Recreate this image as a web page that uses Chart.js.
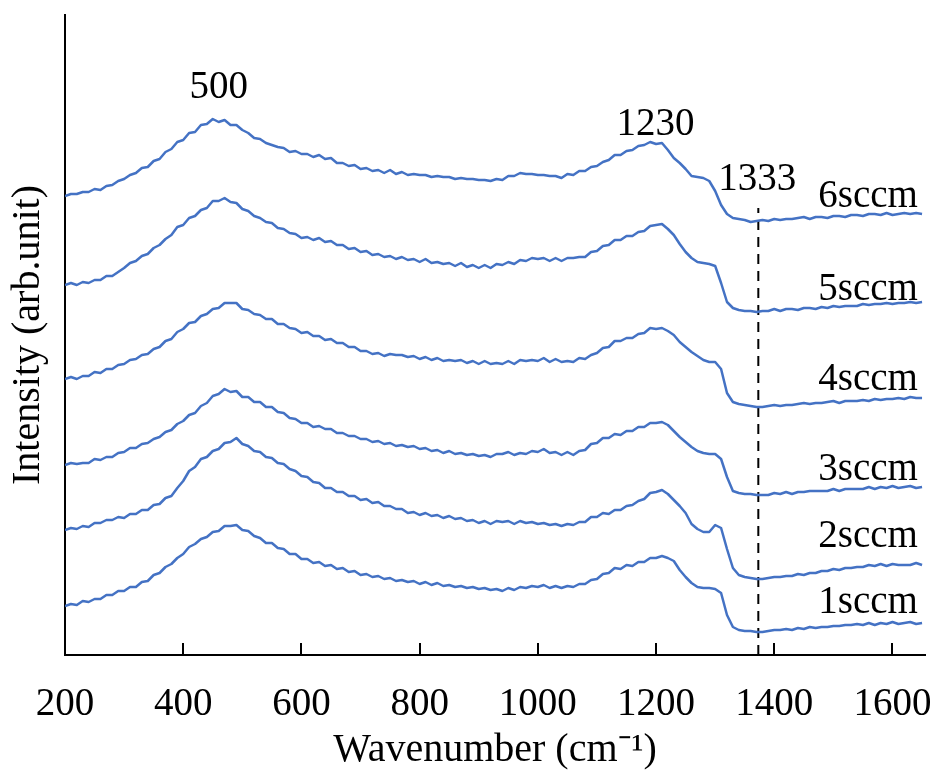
<!DOCTYPE html>
<html>
<head>
<meta charset="utf-8">
<title>Raman spectra</title>
<script src="https://cdn.jsdelivr.net/npm/chart.js@4.4.1/dist/chart.umd.min.js"></script>
<style>
    html, body { margin: 0; padding: 0; background: #fff; }
    #spectra { display: block; }
    .font-probe { font-family: "Liberation Serif"; position: absolute; left: -999px; }
</style>
</head>
<body>
<span class="font-probe">Wavenumber 0123456789</span>
<canvas id="spectra" width="935" height="776"></canvas>
<script>
// Wavenumber grid (cm-1), one sample every 10
const wavenumbers = [];
for (let w = 200; w <= 1650; w += 10) wavenumbers.push(w);

// Stacked intensities (arb. unit, offset per flow rate)
const sccm6 = [
    459,461,461,463,463,466,465,469,470,474,
    476,480,482,487,488,494,496,503,506,513,
    515,522,523,530,531,536,533,535,530,530,
    525,522,517,516,512,510,508,507,503,504,
    501,501,498,500,496,497,492,492,489,490,
    486,487,484,485,482,485,481,483,480,481,
    480,480,478,479,478,478,476,477,476,476,
    475,475,474,476,475,479,479,482,481,481,
    480,480,479,479,477,481,480,484,484,488,
    489,493,495,500,500,504,505,509,510,513,
    511,512,505,497,492,486,479,478,477,474,
    464,450,441,437,436,435,433,434,435,434,
    436,435,436,436,437,438,436,438,438,437,
    439,439,438,440,440,439,441,441,440,442,
    440,441,442,441,442,441
];
const sccm5 = [
    370,372,370,373,372,375,375,379,379,383,
    387,392,394,399,401,407,410,416,420,428,
    430,437,439,445,447,454,454,457,453,452,
    446,444,439,437,433,432,427,426,422,421,
    417,418,415,417,413,414,410,410,406,407,
    403,404,400,401,398,399,396,398,395,396,
    393,396,392,393,391,392,389,392,388,390,
    387,390,387,391,390,393,391,395,394,397,
    396,397,394,397,394,397,397,398,398,403,
    404,409,410,415,415,419,419,423,424,429,
    430,431,426,420,411,403,397,393,392,391,
    389,372,353,347,345,344,344,343,344,344,
    346,344,346,346,345,347,347,346,348,347,
    349,348,349,349,349,351,350,351,351,352,
    351,352,352,353,352,353
];
const sccm4 = [
    276,278,276,279,279,283,282,286,286,290,
    291,295,296,300,301,306,308,314,316,323,
    326,332,333,339,341,346,347,352,352,352,
    346,345,341,340,336,336,331,331,327,326,
    322,323,319,319,315,316,312,312,308,308,
    304,304,301,302,299,301,300,300,298,299,
    296,298,295,297,294,295,294,295,292,294,
    291,294,291,292,291,294,291,295,294,295,
    294,297,293,296,293,294,293,297,296,300,
    302,307,308,314,314,317,317,321,322,327,
    326,327,324,320,313,308,303,299,295,293,
    293,286,262,253,251,250,249,248,248,249,
    250,249,250,250,251,252,251,252,252,253,
    254,252,254,254,254,255,254,256,255,256,
    256,257,256,258,257,257
];
const sccm3 = [
    190,192,191,192,192,196,195,198,198,202,
    203,207,207,211,212,216,218,223,225,231,
    234,240,242,249,252,259,261,266,263,264,
    258,258,253,253,248,248,243,242,237,236,
    232,232,228,229,226,226,222,222,219,219,
    216,216,213,214,211,212,209,210,208,209,
    206,207,204,205,202,204,201,202,200,201,
    199,200,198,201,201,203,200,202,201,204,
    203,206,202,203,200,203,200,204,205,211,
    212,217,217,221,220,224,224,228,228,232,
    232,233,230,224,218,213,208,204,202,201,
    201,196,178,164,162,161,161,160,160,160,
    162,161,163,161,163,163,164,164,164,164,
    166,164,166,166,166,166,168,166,168,167,
    169,167,168,169,167,168
];
const sccm2 = [
    125,127,126,129,128,132,132,135,135,138,
    137,141,141,145,145,150,151,157,159,167,
    174,184,188,196,198,204,206,212,213,217,
    211,209,204,203,198,197,192,191,186,184,
    179,178,173,172,167,167,163,163,159,159,
    155,156,152,153,149,149,146,146,142,143,
    140,142,139,140,137,139,136,137,134,135,
    132,134,131,134,133,134,131,134,132,133,
    131,132,130,131,129,131,130,133,133,138,
    138,142,141,145,145,149,150,154,156,162,
    163,165,161,155,149,142,131,126,123,123,
    130,127,106,87,80,78,77,76,76,77,
    78,78,79,79,81,80,82,82,84,84,
    86,85,87,87,88,88,90,89,91,89,
    91,90,90,90,92,90
];
const sccm1 = [
    49,51,50,54,53,56,56,60,60,64,
    64,68,68,73,74,80,82,88,91,97,
    101,108,111,116,118,123,124,129,129,130,
    125,124,119,117,112,112,107,106,101,101,
    96,96,92,93,89,90,86,87,83,84,
    80,81,78,79,76,77,74,75,73,74,
    71,73,70,72,69,70,68,69,67,68,
    66,67,65,66,64,67,65,68,67,69,
    68,70,67,69,67,69,68,71,71,75,
    76,81,82,87,86,90,89,93,93,97,
    97,99,97,94,85,78,72,68,67,67,
    66,62,40,28,25,24,24,23,23,24,
    25,25,26,25,27,26,28,27,28,28,
    29,29,30,30,31,30,32,30,32,31,
    33,31,32,33,31,32
];

const seriesNames = ['6sccm', '5sccm', '4sccm', '3sccm', '2sccm', '1sccm'];
const seriesValues = [sccm6, sccm5, sccm4, sccm3, sccm2, sccm1];

// Peak positions marked above the spectra
const peakLabels = ['500', '1230', '1333'];
const diamondLine = 1373;

const FONT = '"Liberation Serif", "Times New Roman", serif';
const LINE_BLUE = '#4472c4';

function toPoints(values) {
    return wavenumbers.map((w, i) => ({ x: w, y: values[i] }));
}

// Inward ticks, peak labels and series names
const decorations = {
    id: 'decorations',
    afterDraw(chart) {
        const ctx = chart.ctx;
        const xs = chart.scales.x;
        const ys = chart.scales.y;
        const bottom = chart.chartArea.bottom;

        ctx.save();
        ctx.strokeStyle = '#000';
        ctx.lineWidth = 2;
        xs.ticks.forEach(t => {
            if (t.value === xs.min) return;
            const px = Math.round(xs.getPixelForValue(t.value));
            ctx.beginPath();
            ctx.moveTo(px, bottom);
            ctx.lineTo(px, bottom - 12);
            ctx.stroke();
        });

        ctx.fillStyle = '#000';
        ctx.font = `39px ${FONT}`;
        ctx.textBaseline = 'middle';
        ctx.textAlign = 'center';
        const peakAt = [[460, 567], [1199, 530], [1371, 475]];
        peakLabels.forEach((txt, i) => {
            ctx.fillText(txt, xs.getPixelForValue(peakAt[i][0]), ys.getPixelForValue(peakAt[i][1]));
        });

        ctx.textAlign = 'right';
        const nameY = [458, 365, 275, 185, 118, 52];
        seriesNames.forEach((name, i) => {
            ctx.fillText(name, xs.getPixelForValue(1643), ys.getPixelForValue(nameY[i]));
        });
        ctx.restore();
    }
};

function drawChart() {
    const datasets = seriesNames.map((name, i) => ({
        label: name,
        data: toPoints(seriesValues[i]),
        borderColor: LINE_BLUE,
        borderWidth: 2.5,
        borderJoinStyle: 'round',
        pointRadius: 0,
        tension: 0
    }));

    datasets.push({
        label: '1333 marker',
        data: [{ x: diamondLine, y: 0 }, { x: diamondLine, y: 447 }],
        borderColor: '#000',
        borderWidth: 2,
        borderDash: [10, 7],
        pointRadius: 0
    });

    new Chart(document.getElementById('spectra'), {
        type: 'line',
        data: { datasets },
        options: {
            responsive: false,
            animation: false,
            layout: { padding: { top: 15, right: 10, left: 0, bottom: 0 } },
            plugins: { legend: { display: false }, tooltip: { enabled: false } },
            scales: {
                x: {
                    type: 'linear',
                    min: 200,
                    max: 1655,
                    grid: { display: false, drawTicks: false },
                    border: { display: true, color: '#000', width: 2 },
                    ticks: {
                        stepSize: 200,
                        includeBounds: false,
                        padding: 26,
                        color: '#000',
                        font: { family: FONT, size: 39 },
                        maxRotation: 0,
                        callback: v => String(v)
                    },
                    title: {
                        display: true,
                        text: 'Wavenumber (cm\u207b\u00b9)',
                        color: '#000',
                        font: { family: FONT, size: 40 },
                        padding: { top: 0, bottom: 2 }
                    },
                    afterFit(scale) {
                        scale.height = 121;
                        scale.paddingLeft = 0;
                        scale.paddingRight = 0;
                    }
                },
                y: {
                    min: 0,
                    max: 640,
                    grid: { display: false, drawTicks: false },
                    border: { display: true, color: '#000', width: 2 },
                    ticks: { display: false },
                    title: {
                        display: true,
                        text: 'Intensity (arb.unit)',
                        color: '#000',
                        font: { family: FONT, size: 40 },
                        padding: { top: 4, bottom: 4 }
                    },
                    afterFit(scale) { scale.width = 65; }
                }
            }
        },
        plugins: [decorations]
    });
}

document.fonts.load('39px "Liberation Serif"').then(drawChart, drawChart);
</script>
</body>
</html>
